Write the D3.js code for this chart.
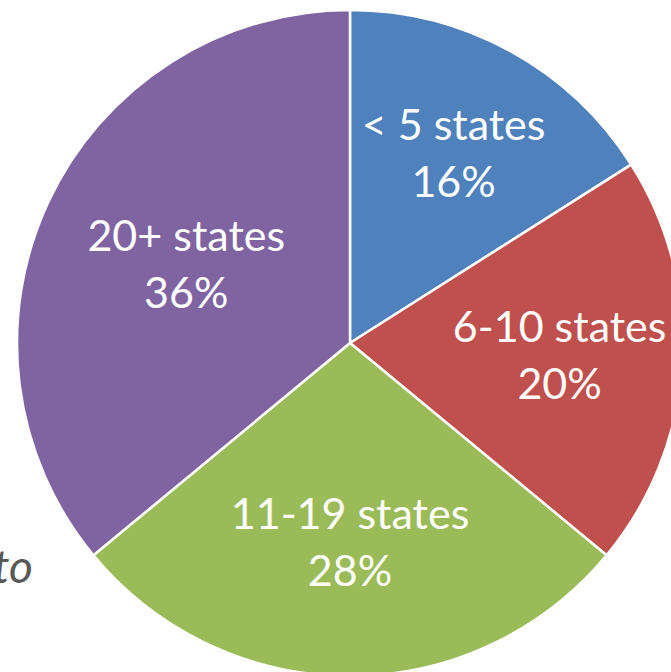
<!DOCTYPE html>
<html>
<head>
<meta charset="utf-8">
<script src="https://cdn.jsdelivr.net/npm/d3@7"></script>
<style>
  body { margin: 0; background: #fff; }
  svg { display: block; }
</style>
</head>
<body>
<div id="chart"></div>
<script>
var categories = ["< 5 states", "6-10 states", "11-19 states", "20+ states"];
var shares = [16, 20, 28, 36];
var sliceColors = ["#4F81BD", "#C0504D", "#9BBB59", "#8064A2"];
var labelRadius = [215, 210, 200, 181];

var width = 671, height = 672;
var cx = 350, cy = 343, radius = 333;

var svg = d3.select("#chart")
    .append("svg")
    .attr("width", width)
    .attr("height", height);

// fragments of a side note that is cut off by the frame
var note = svg.append("g")
    .style("font-family", "Lato, 'Open Sans', sans-serif")
    .style("font-style", "italic")
    .style("font-size", "46px")
    .style("fill", "#595959");
note.append("text").attr("x", 1.5).attr("y", 471).attr("text-anchor", "end").text(",");
note.append("text").attr("x", 33).attr("y", 583).attr("text-anchor", "end").text("to");

var data = categories.map(function (c, i) {
    return {name: c, value: shares[i], color: sliceColors[i], lr: labelRadius[i]};
});

var pie = d3.pie()
    .sort(null)
    .value(function (d) { return d.value; });

var arc = d3.arc()
    .innerRadius(0)
    .outerRadius(radius);

var g = svg.append("g")
    .attr("transform", "translate(" + cx + "," + cy + ")");

var arcs = pie(data);

g.selectAll("path")
    .data(arcs)
    .enter()
    .append("path")
    .attr("d", arc)
    .attr("fill", function (d) { return d.data.color; })
    .attr("stroke", "#fff")
    .attr("stroke-width", 2.5)
    .attr("stroke-linejoin", "round");

var labels = g.selectAll(".label")
    .data(arcs)
    .enter()
    .append("text")
    .attr("class", "label")
    .attr("transform", function (d) {
        var a = (d.startAngle + d.endAngle) / 2;
        var r = d.data.lr;
        return "translate(" + (Math.sin(a) * r) + "," + (-Math.cos(a) * r) + ")";
    })
    .attr("text-anchor", "middle")
    .style("font-family", "Lato, 'Open Sans', sans-serif")
    .style("font-size", "43px")
    .style("fill", "#fff");

labels.append("tspan")
    .attr("x", 0)
    .attr("y", -14.5)
    .text(function (d) { return d.data.name; });

labels.append("tspan")
    .attr("x", 0)
    .attr("y", 42.5)
    .text(function (d) { return d.data.value + "%"; });
</script>
</body>
</html>
